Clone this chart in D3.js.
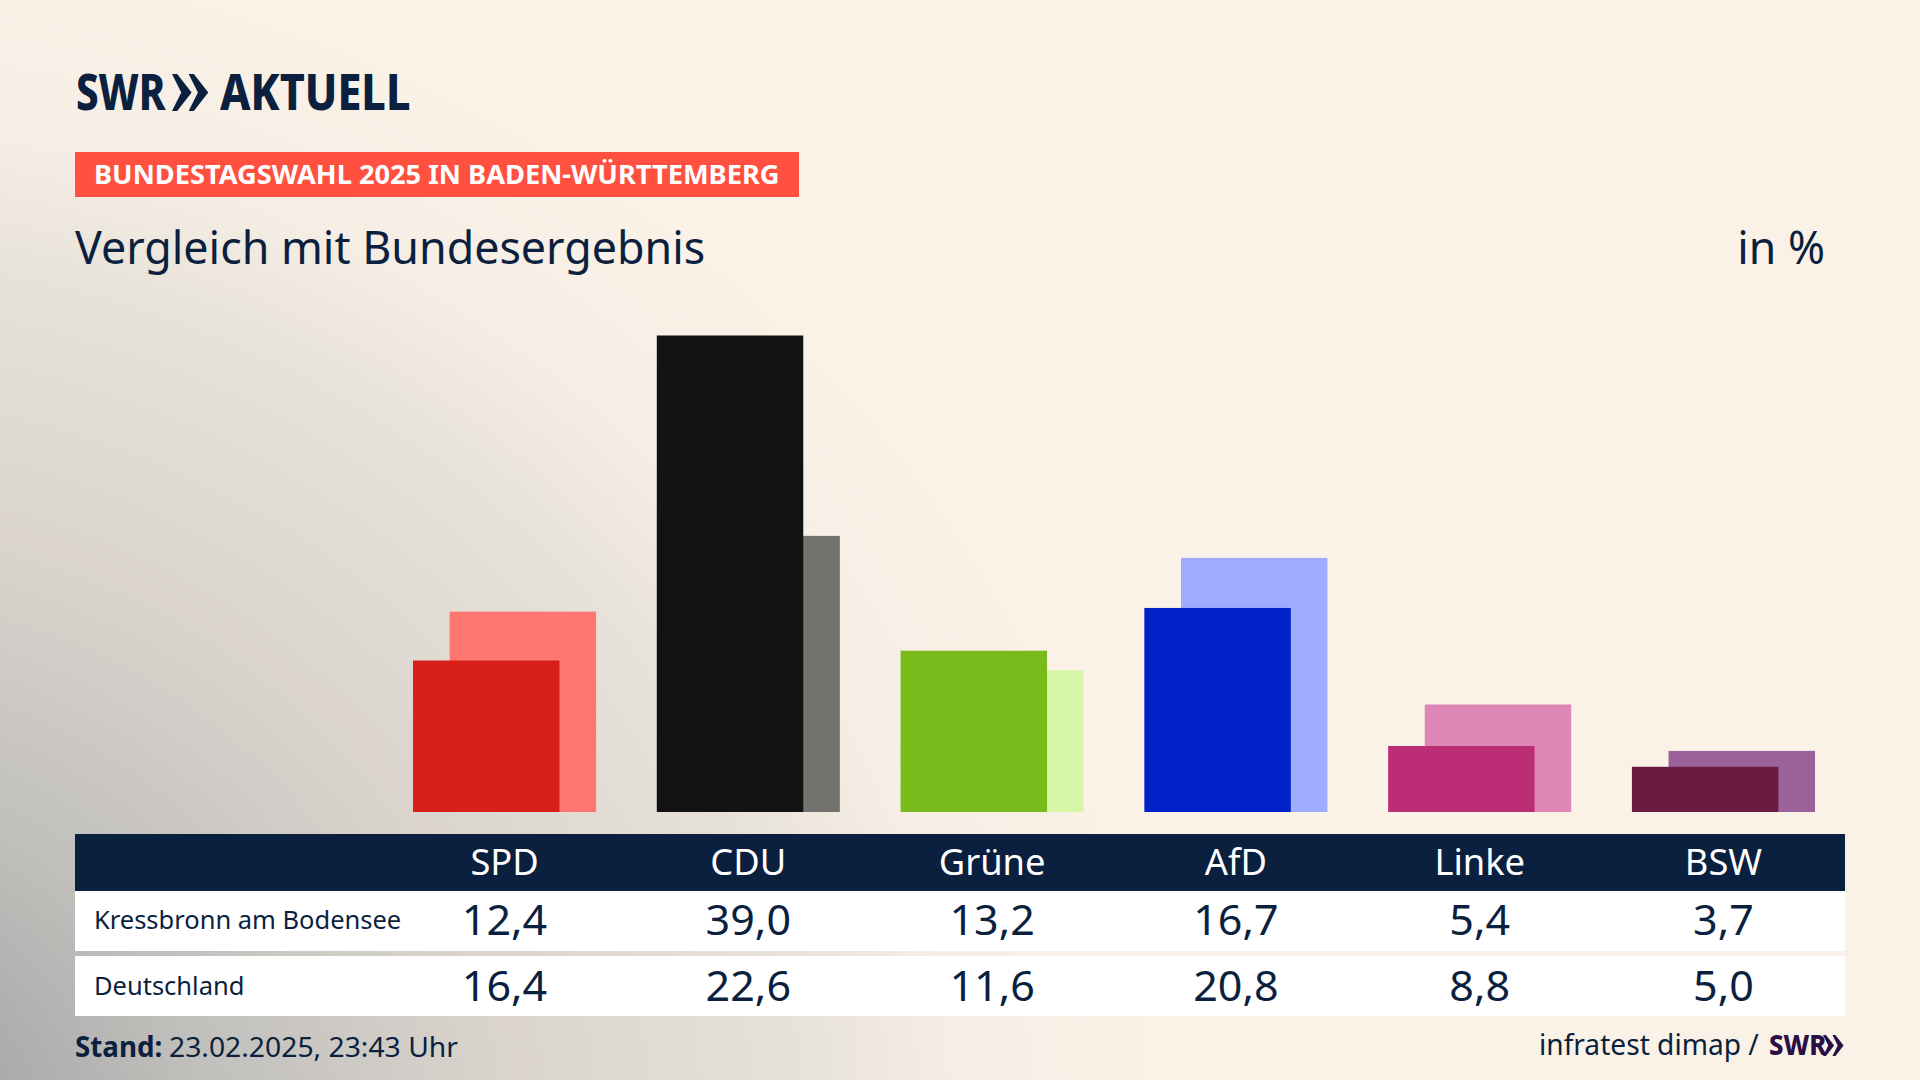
<!DOCTYPE html>
<html>
<head>
<meta charset="utf-8">
<script src="https://cdn.jsdelivr.net/npm/d3@7"></script>
<style>
  html, body { margin: 0; padding: 0; background: #faf2e7; }
  svg { display: block; }
  text { font-family: "Noto Sans", sans-serif; fill: #0b1f3f; }
</style>
</head>
<body>
<svg id="chart" width="1920" height="1080"></svg>
<script>
const parties = ["SPD", "CDU", "Grüne", "AfD", "Linke", "BSW"];
const kressbronn = [12.4, 39.0, 13.2, 16.7, 5.4, 3.7];
const deutschland = [16.4, 22.6, 11.6, 20.8, 8.8, 5.0];
const frontColors = ["#d81f1c", "#121212", "#78bb1a", "#0020c8", "#bb2e75", "#6b1a40"];
const backColors = ["#ff7770", "#73726f", "#d6f7a8", "#9eabff", "#df88b7", "#9b619b"];
const rowLabels = ["Kressbronn am Bodensee", "Deutschland"];

const navy = "#0b1f3f";
const svg = d3.select("#chart");

// squeeze text horizontally, the original face is narrower than anything installed
function condense(sel, k) {
  sel.each(function() {
    const len = this.getComputedTextLength();
    d3.select(this).attr("textLength", len * k).attr("lengthAdjust", "spacingAndGlyphs");
  });
  return sel;
}

// Background
const grad = svg.append("defs").append("radialGradient")
  .attr("id", "bg")
  .attr("gradientUnits", "userSpaceOnUse")
  .attr("cx", 0).attr("cy", 0).attr("r", 1)
  .attr("gradientTransform", "translate(-200,1150) scale(1350,1200)");
[[0, "#a5a5a5"], [0.16, "#ababaa"], [0.3, "#c0bfbc"], [0.53, "#dad4cd"], [0.74, "#e6e1d9"], [0.86, "#f6eee4"], [1, "#faf2e7"]]
  .forEach(s => grad.append("stop").attr("offset", s[0]).attr("stop-color", s[1]));
svg.append("rect").attr("width", 1920).attr("height", 1080).attr("fill", "url(#bg)");

// Logo
const chevrons = (g, x, y, h, fill) => {
  [0, h * 0.45].forEach(dx => {
    g.append("path")
      .attr("d", `M${x + dx},${y} L${x + dx + h * 0.14},${y} L${x + dx + h * 0.53},${y + h / 2} L${x + dx + h * 0.14},${y + h} L${x + dx},${y + h} L${x + dx + h * 0.25},${y + h / 2} Z`)
      .attr("fill", fill);
  });
};
const logo = svg.append("g");
logo.append("text").attr("x", 76).attr("y", 110).attr("font-size", 49).attr("font-weight", 800).text("SWR").call(condense, 0.82);
chevrons(logo, 172, 74, 37, navy);
logo.append("text").attr("x", 220).attr("y", 110).attr("font-size", 49).attr("font-weight", 800).text("AKTUELL").call(condense, 0.88);

// Banner
svg.append("rect").attr("x", 75).attr("y", 152).attr("width", 724).attr("height", 45).attr("fill", "#ff5040");
svg.append("text").attr("x", 94).attr("y", 184).attr("font-size", 27).attr("font-weight", 700)
  .style("fill", "#fff").text("BUNDESTAGSWAHL 2025 IN BADEN-WÜRTTEMBERG").call(condense, 1.008);

// Title
svg.append("text").attr("x", 75).attr("y", 264).attr("font-size", 45).text("Vergleich mit Bundesergebnis").call(condense, 0.995);
svg.append("text").attr("x", 1825).attr("y", 264).attr("font-size", 45).attr("text-anchor", "end").text("in %").call(condense, 0.99);

// Scales
const x = d3.scaleBand().domain(parties).range([413, 1815]).paddingInner(0.249);
const y = d3.scaleLinear().domain([0, 39]).range([812, 335.5]);
const barW = x.bandwidth() * 0.8;
const shift = x.bandwidth() * 0.2;

// Bars: national result behind, local result in front
svg.append("g").selectAll("rect")
  .data(parties)
  .join("rect")
  .attr("x", d => x(d) + shift)
  .attr("y", (d, i) => y(deutschland[i]))
  .attr("width", barW)
  .attr("height", (d, i) => y(0) - y(deutschland[i]))
  .attr("fill", (d, i) => backColors[i]);

svg.append("g").selectAll("rect")
  .data(parties)
  .join("rect")
  .attr("x", d => x(d))
  .attr("y", (d, i) => y(kressbronn[i]))
  .attr("width", barW)
  .attr("height", (d, i) => y(0) - y(kressbronn[i]))
  .attr("fill", (d, i) => frontColors[i]);

// Table
const center = d => x(d) + x.bandwidth() / 2;
const fmt = v => v.toFixed(1).replace(".", ",");

svg.append("rect").attr("x", 75).attr("y", 834).attr("width", 1770).attr("height", 57).attr("fill", navy);
svg.append("g").selectAll("text")
  .data(parties)
  .join("text")
  .attr("x", center)
  .attr("y", 875)
  .attr("font-size", 37)
  .attr("text-anchor", "middle")
  .style("fill", "#fff")
  .text(d => d)
  .call(condense, 0.98);

const rows = [
  { label: rowLabels[0], values: kressbronn, top: 891, h: 60, labelY: 929, valueY: 935 },
  { label: rowLabels[1], values: deutschland, top: 956, h: 60, labelY: 995, valueY: 1001 }
];
rows.forEach(r => {
  svg.append("rect").attr("x", 75).attr("y", r.top).attr("width", 1770).attr("height", r.h).attr("fill", "#fff");
  svg.append("text").attr("x", 94).attr("y", r.labelY).attr("font-size", 26).text(r.label).call(condense, 0.98);
  svg.append("g").selectAll("text")
    .data(r.values)
    .join("text")
    .attr("x", (d, i) => center(parties[i]))
    .attr("y", r.valueY)
    .attr("font-size", 41)
    .attr("text-anchor", "middle")
    .text(fmt)
    .call(condense, 1.05);
});

// Footer
const stand = svg.append("g");
stand.append("text").attr("x", 75).attr("y", 1057).attr("font-size", 28).attr("font-weight", 700).text("Stand:").call(condense, 0.99);
stand.append("text").attr("x", 169).attr("y", 1057).attr("font-size", 28).text("23.02.2025, 23:43 Uhr").call(condense, 1.01);

svg.append("text").attr("x", 1539).attr("y", 1055).attr("font-size", 29).text("infratest dimap /").call(condense, 0.97);
svg.append("text").attr("x", 1769).attr("y", 1055).attr("font-size", 28).attr("font-weight", 800).style("fill", "#2a0f45").text("SWR").call(condense, 0.92);
chevrons(svg.append("g"), 1823, 1035, 21, "#2a0f45");
</script>
</body>
</html>
